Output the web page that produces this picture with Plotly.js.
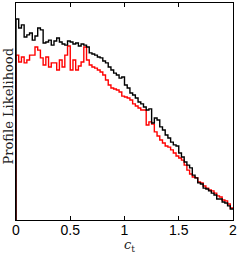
<!DOCTYPE html>
<html>
<head>
<meta charset="utf-8">
<script src="https://cdn.plot.ly/plotly-3.0.1.min.js"></script>
<style>html,body{margin:0;padding:0;background:#fff;}#chart{width:240px;height:253px;}</style>
</head>
<body>
<div id="chart"></div>
<script>
// histogram bins over c_t
var binStart = 0;
var binWidth = 0.025;

// profile likelihood (black)
var profileBlack = [
0.926,0.885,0.899,0.843,0.853,0.862,0.829,0.848,0.885,0.876,
0.816,0.820,0.829,0.806,0.825,0.839,0.820,0.811,0.806,0.825,
0.820,0.811,0.816,0.802,0.811,0.806,0.797,0.770,0.765,0.760,
0.751,0.747,0.733,0.724,0.705,0.691,0.677,0.668,0.654,0.659,
0.622,0.608,0.585,0.576,0.562,0.544,0.535,0.521,0.507,0.512,
0.447,0.470,0.461,0.429,0.415,0.392,0.378,0.359,0.346,0.341,
0.309,0.290,0.267,0.253,0.240,0.207,0.194,0.171,0.166,0.147,
0.143,0.134,0.124,0.115,0.097,0.097,0.083,0.078,0.065,0.051
];

// profile likelihood (red)
var profileRed = [
0.760,0.728,0.751,0.724,0.737,0.760,0.760,0.797,0.783,0.747,
0.714,0.751,0.705,0.724,0.724,0.691,0.737,0.705,0.760,0.802,
0.691,0.737,0.691,0.710,0.728,0.797,0.737,0.714,0.705,0.700,
0.691,0.682,0.668,0.645,0.622,0.608,0.604,0.599,0.590,0.571,
0.567,0.562,0.553,0.535,0.525,0.516,0.507,0.507,0.438,0.452,
0.442,0.406,0.387,0.369,0.355,0.341,0.336,0.323,0.309,0.295,
0.286,0.276,0.253,0.230,0.212,0.198,0.194,0.175,0.171,0.157,
0.147,0.138,0.134,0.124,0.111,0.106,0.092,0.088,0.074,0.055
];

var xTicks = [0, 0.5, 1, 1.5, 2];
var xTickText = ['0', '0.5', '1', '1.5', '2'];
var xTitle = '<i>c</i><sub>t</sub>';
var yTitle = 'Profile Likelihood';

function stepTrace(vals, color) {
  var xs = [binStart], ys = [0];
  for (var i = 0; i < vals.length; i++) {
    xs.push(binStart + i * binWidth);
    ys.push(vals[i]);
  }
  xs.push(binStart + vals.length * binWidth);
  ys.push(vals[vals.length - 1]);
  return {x: xs, y: ys, type: 'scatter', mode: 'lines',
          line: {shape: 'hv', color: color, width: 1.4},
          hoverinfo: 'skip', showlegend: false};
}

var data = [stepTrace(profileRed, '#ff0000'), stepTrace(profileBlack, '#000000')];

var serif = 'DejaVu Serif, Liberation Serif, serif';

var layout = {
  width: 240, height: 253,
  margin: {l: 16, r: 7, t: 3, b: 33, pad: 0},
  paper_bgcolor: '#fff', plot_bgcolor: '#fff',
  showlegend: false,
  xaxis: {
    range: [0, 2], tickvals: xTicks, ticktext: xTickText, automargin: false,
    ticks: 'inside', ticklen: 4, tickcolor: '#000', tickwidth: 1,
    ticklabelstandoff: -3,
    showline: true, linecolor: '#000', linewidth: 1, mirror: 'ticks',
    showgrid: false, zeroline: false,
    tickfont: {family: 'Liberation Sans, Arial, sans-serif', size: 14, color: '#000'}
  },
  yaxis: {
    range: [0, 1], showticklabels: false, ticks: '', automargin: false,
    showline: true, linecolor: '#000', linewidth: 1, mirror: true,
    showgrid: false, zeroline: false
  },
  annotations: [
    {text: xTitle, xref: 'paper', yref: 'paper', x: 0.525, y: -0.116,
     xanchor: 'center', yanchor: 'middle', showarrow: false,
     font: {family: serif, size: 13, color: '#222'}},
    {text: yTitle, xref: 'paper', yref: 'paper', x: -0.035, y: 0.525,
     xanchor: 'center', yanchor: 'middle', showarrow: false, textangle: -90,
     font: {family: serif, size: 13, color: '#222'}}
  ]
};

Plotly.newPlot('chart', data, layout, {staticPlot: true, displayModeBar: false});
</script>
</body>
</html>
